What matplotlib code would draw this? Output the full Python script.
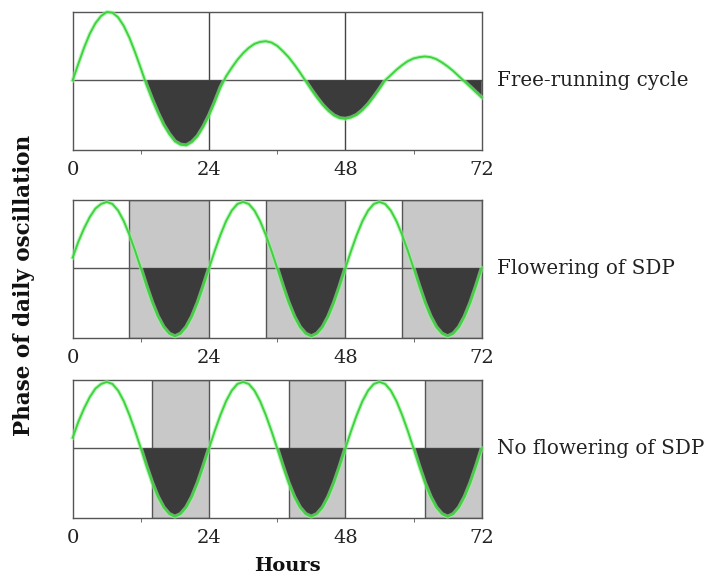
import matplotlib.pyplot as plt

# hours sampled every hour, 0..72
hours = list(range(73))

# free-running (damped) oscillation
free_running = [
    0.00, 0.25, 0.49, 0.70, 0.86, 0.97, 1.03, 1.02, 0.95, 0.82, 0.64, 0.42, 0.18,
    -0.07, -0.29, -0.49, -0.67, -0.81, -0.92, -0.97, -0.98, -0.93, -0.84, -0.70, -0.53,
    -0.33, -0.11, 0.06, 0.19, 0.31, 0.41, 0.49, 0.55, 0.58, 0.59, 0.57, 0.52, 0.44,
    0.35, 0.24, 0.12, -0.01, -0.14, -0.26, -0.37, -0.46, -0.53, -0.57, -0.58, -0.56,
    -0.52, -0.45, -0.36, -0.25, -0.13, 0.00, 0.08, 0.16, 0.23, 0.29, 0.33, 0.35, 0.36,
    0.35, 0.32, 0.27, 0.21, 0.14, 0.06, -0.02, -0.10, -0.18, -0.26,
]

# entrained oscillation (same in the two lower panels)
entrained = [
    0.16, 0.40, 0.60, 0.77, 0.90, 0.97, 1.00, 0.97, 0.87, 0.71, 0.50, 0.26,
    0.00, -0.27, -0.52, -0.73, -0.89, -0.99, -1.03, -0.99, -0.89, -0.73, -0.52, -0.27,
    0.00, 0.26, 0.50, 0.71, 0.87, 0.97, 1.00, 0.97, 0.87, 0.71, 0.50, 0.26,
    0.00, -0.27, -0.52, -0.73, -0.89, -0.99, -1.03, -0.99, -0.89, -0.73, -0.52, -0.27,
    0.00, 0.26, 0.50, 0.71, 0.87, 0.97, 1.00, 0.97, 0.87, 0.71, 0.50, 0.26,
    0.00, -0.27, -0.52, -0.73, -0.89, -0.99, -1.03, -0.99, -0.89, -0.73, -0.52, -0.27,
    0.00,
]

# dark periods (start, end) in hours
dark_sdp = [(10, 24), (34, 48), (58, 72)]
dark_no_sdp = [(14, 24), (38, 48), (62, 72)]

panel_labels = ["Free-running cycle", "Flowering of SDP", "No flowering of SDP"]
tick_hours = [0, 24, 48, 72]

serif = "DejaVu Serif"
green = "#3dd43d"
dark = "#3b3b3b"
edge = "#555555"

fig = plt.figure(figsize=(7.16, 5.81), dpi=100)

# axes boxes (left, bottom, width, height) in figure fractions
boxes = [
    (0.1015, 0.7418, 0.5713, 0.2375),
    (0.1015, 0.4188, 0.5713, 0.2370),
    (0.1015, 0.1084, 0.5713, 0.2376),
]
curves = [free_running, entrained, entrained]
darks = [None, dark_sdp, dark_no_sdp]

for box, y, periods, label in zip(boxes, curves, darks, panel_labels):
    ax = fig.add_axes(box)
    ax.set_xlim(0, 72)
    ax.set_ylim(-1.05, 1.03)

    if periods is None:
        # plain grid lines at each day boundary
        for h in tick_hours[1:-1]:
            ax.axvline(h, color="#444444", lw=1.0, zorder=1)
    else:
        for start, end in periods:
            ax.axvspan(start, end, facecolor="#c8c8c8", edgecolor=edge, lw=1.0, zorder=0)

    ax.axhline(0, color="#555555", lw=1.0, zorder=2)
    ax.fill_between(hours, y, 0, where=[v <= 0 for v in y], interpolate=True,
                    color=dark, lw=0, zorder=3)
    ax.plot(hours, y, color="#9ef09e", lw=3.0, alpha=0.6, zorder=4, clip_on=False)
    ax.plot(hours, y, color=green, lw=1.4, zorder=5, clip_on=False)

    for s in ax.spines.values():
        s.set_color(edge)
        s.set_linewidth(1.0)

    ax.set_yticks([])
    ax.set_xticks(tick_hours)
    ax.set_xticklabels([str(h) for h in tick_hours], fontfamily=serif, fontsize=14,
                       color="#222222")
    ax.set_xticks([12, 36, 60], minor=True)
    ax.tick_params(axis="x", which="major", length=0, pad=8)
    ax.tick_params(axis="x", which="minor", length=3, color=edge)

    ax.text(1.037, 1.05 / 2.08, label, transform=ax.transAxes,
            ha="left", va="center", fontfamily=serif, fontsize=14.3, color="#222222")

fig.text(0.401, 0.026, "Hours", ha="center", va="center",
         fontfamily=serif, fontsize=14, fontweight="bold", color="#111111")
fig.text(0.034, 0.508, "Phase of daily oscillation", ha="center", va="center",
         rotation=90, fontfamily=serif, fontsize=15.5, fontweight="bold", color="#111111")

fig.savefig("out.png", dpi=100)
